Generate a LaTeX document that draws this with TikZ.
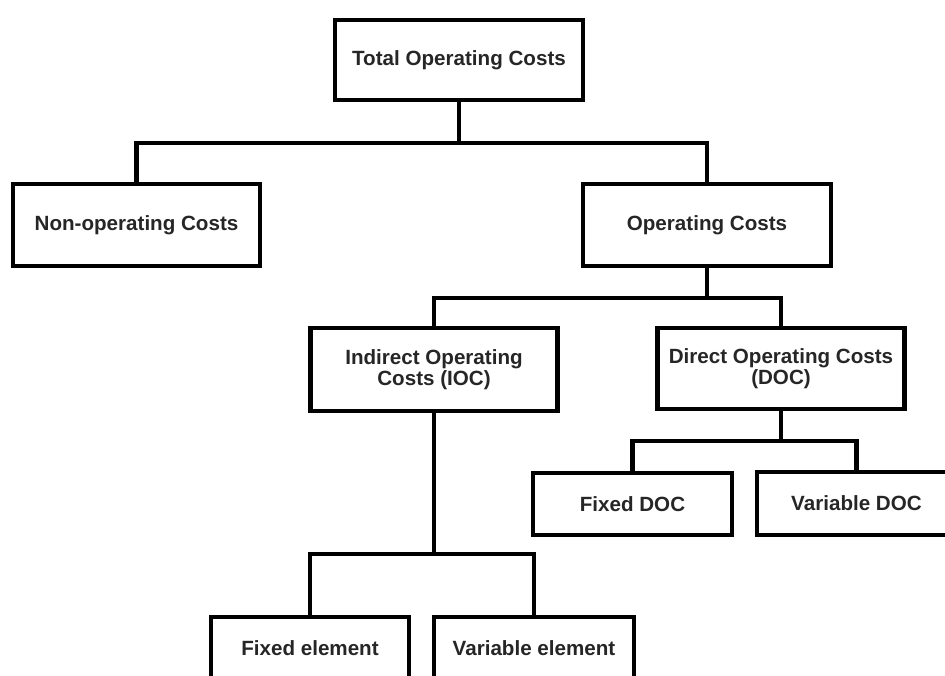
\documentclass[tikz,border=0pt]{standalone}
\usepackage{fontspec}
\setmainfont{Liberation Sans}
\begin{document}
\begin{tikzpicture}[x=1pt,y=-1pt,
  box/.style={draw=black, line width=4.5pt, rectangle, align=center, inner sep=0pt,
    font=\fontsize{20.6}{21}\selectfont\bfseries, text=black!85},
  link/.style={draw=black, line width=4.5pt, line join=miter}]
\useasboundingbox (0,0) rectangle (945,675);
\clip (0,0) rectangle (945,675);
\fill[white] (0,0) rectangle (945,675);

\node[box, minimum width=248pt, minimum height=80pt] (total) at (459,60) {Total Operating Costs};
\node[box, minimum width=247pt, minimum height=82pt] (nonop) at (136.5,225) {Non-operating Costs};
\node[box, minimum width=248pt, minimum height=82pt] (op) at (707,225) {Operating Costs};
\node[box, minimum width=247pt, minimum height=83pt] (ioc) at (434,369.5) {Indirect Operating\\Costs (IOC)};
\node[box, minimum width=247pt, minimum height=81pt] (doc) at (781,368.5) {Direct Operating Costs\\(DOC)};
\node[box, minimum width=199pt, minimum height=62pt] (fdoc) at (632.5,504) {Fixed DOC};
\node[box, minimum width=199pt, minimum height=63pt] (vdoc) at (856.5,503.5) {Variable DOC};
\node[box, minimum width=198pt, minimum height=62pt] (fel) at (310,648) {Fixed element};
\node[box, minimum width=200pt, minimum height=62pt] (vel) at (534,648) {Variable element};

\coordinate (b1) at (total.south |- 0,143);
\coordinate (b2) at (op.south |- 0,298);
\coordinate (b3) at (doc.south |- 0,441);
\coordinate (b4) at (ioc.south |- 0,554);

\draw[link] (total.south) -- (b1);
\draw[link] (b1) -| (nonop.north);
\draw[link] (b1) -| (op.north);

\draw[link] (op.south) -- (b2);
\draw[link] (b2) -| (ioc.north);
\draw[link] (b2) -| (doc.north);

\draw[link] (doc.south) -- (b3);
\draw[link] (b3) -| (fdoc.north);
\draw[link] (b3) -| (vdoc.north);

\draw[link] (ioc.south) -- (b4);
\draw[link] (b4) -| (fel.north);
\draw[link] (b4) -| (vel.north);
\end{tikzpicture}
\end{document}
